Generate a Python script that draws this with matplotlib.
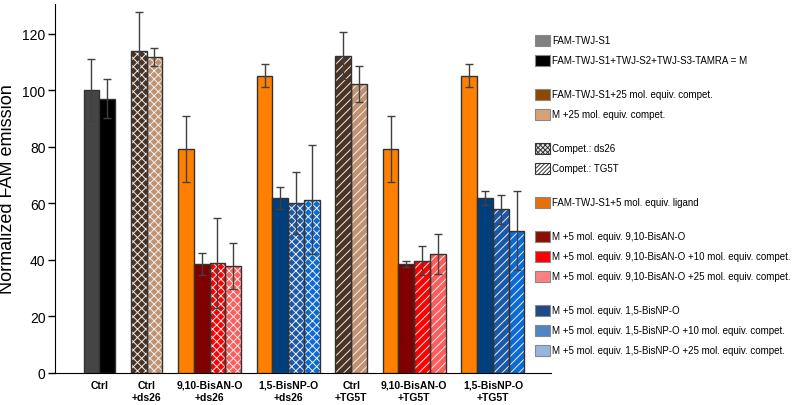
import matplotlib
matplotlib.use("Agg")
import matplotlib.pyplot as plt
from matplotlib.patches import Rectangle

plt.rcParams['font.family'] = ['Liberation Sans', 'DejaVu Sans']
plt.rcParams['hatch.linewidth'] = 0.7

# Данные
groups = ['Ctrl', 'Ctrl\n+ds26', '9,10-BisAN-O\n+ds26', '1,5-BisNP-O\n+ds26',
          'Ctrl\n+TG5T', '9,10-BisAN-O\n+TG5T', '1,5-BisNP-O\n+TG5T']
values = [[100, 97], [114, 111.6], [79.2, 38.5, 38.8, 37.8], [105.1, 61.8, 60.1, 61.3],
          [112.2, 102.1], [79.2, 38.5, 39.7, 42.1], [105.1, 61.8, 57.8, 50.3]]
errors = [[11, 6.8], [13.8, 3.2], [11.8, 4, 16, 8], [4, 4, 11, 19.4],
          [8.4, 6.4], [11.8, 1.2, 5.2, 7], [4, 2.5, 5.1, 13.9]]
colors = [['#454545', '#000000'],
          ['#4a3323', '#c09272'],
          ['#ff8000', '#800000', '#ff0000', '#ff5c5c'],
          ['#ff8000', '#003f7c', '#1a58aa', '#0a6ad8'],
          ['#4a3323', '#c09272'],
          ['#ff8000', '#800000', '#ff0000', '#ff5c5c'],
          ['#ff8000', '#003f7c', '#1a58aa', '#0a6ad8']]
hatches = [['', ''], ['xxxx', 'xxxx'], ['', '', 'xxxx', 'xxxx'], ['', '', 'xxxx', 'xxxx'],
           ['////', '////'], ['', '', '////', '////'], ['', '', '////', '////']]

# Легенда (отдельные блоки с промежутками)
legend_blocks = [
    [('FAM-TWJ-S1', '#808080', ''), ('FAM-TWJ-S1+TWJ-S2+TWJ-S3-TAMRA = M', '#000000', '')],
    [('FAM-TWJ-S1+25 mol. equiv. compet.', '#8c4a00', ''), ('M +25 mol. equiv. compet.', '#d6a275', '')],
    [('Compet.: ds26', '#e8e8e8', 'xxxxxxx'), ('Compet.: TG5T', '#ffffff', '////////')],
    [('FAM-TWJ-S1+5 mol. equiv. ligand', '#e8700c', '')],
    [('M +5 mol. equiv. 9,10-BisAN-O', '#8c1000', ''),
     ('M +5 mol. equiv. 9,10-BisAN-O +10 mol. equiv. compet.', '#ff0000', ''),
     ('M +5 mol. equiv. 9,10-BisAN-O +25 mol. equiv. compet.', '#ff8080', '')],
    [('M +5 mol. equiv. 1,5-BisNP-O', '#1f4a85', ''),
     ('M +5 mol. equiv. 1,5-BisNP-O +10 mol. equiv. compet.', '#4f85c5', ''),
     ('M +5 mol. equiv. 1,5-BisNP-O +25 mol. equiv. compet.', '#98b5de', '')],
]

fig = plt.figure(figsize=(8, 4.06), dpi=100)
ax = fig.add_axes([0.069, 0.079, 0.62, 0.909])

pos = 0
centers = []
for vals, errs, cols, hs in zip(values, errors, colors, hatches):
    xs = [pos + i for i in range(len(vals))]
    for x, v, e, c, h in zip(xs, vals, errs, cols, hs):
        if h:
            ax.bar(x, v, width=1, color=c, hatch=h, edgecolor='#f0f0f0', linewidth=0, zorder=2)
            ax.bar(x, v, width=1, fill=False, edgecolor='#333333', linewidth=1, zorder=3)
        else:
            ax.bar(x, v, width=1, color=c, edgecolor='#333333', linewidth=1, zorder=3)
        ax.errorbar(x, v, yerr=e, color='#404040', elinewidth=1, capsize=3,
                    capthick=1, zorder=4)
    centers.append((xs[0] + xs[-1]) / 2)
    pos = xs[-1] + 2

ax.set_xlim(-2.3, 29.2)
ax.set_ylim(0, 130.5)
ax.set_xticks(centers)
ax.set_xticklabels(groups, fontsize=7.5, fontweight='bold', linespacing=1.3)
ax.tick_params(axis='x', length=0, pad=5)
ax.set_yticks(range(0, 121, 20))
ax.tick_params(axis='y', labelsize=10, direction='out', length=5, width=1, pad=2)
ax.set_ylabel('Normalized FAM emission', fontsize=13)
ax.yaxis.set_label_coords(-0.079, 0.5)
for s in ['top', 'right']:
    ax.spines[s].set_visible(False)

# Рисуем легенду вручную
y = 406 - 41
for block in legend_blocks:
    for label, c, h in block:
        if h:
            fig.patches.append(Rectangle((535 / 800, (y - 5.5) / 406), 15 / 800, 11 / 406,
                                         transform=fig.transFigure, facecolor=c, hatch=h,
                                         edgecolor='#333333', linewidth=0.8, zorder=5))
        else:
            fig.patches.append(Rectangle((535 / 800, (y - 5.5) / 406), 15 / 800, 11 / 406,
                                         transform=fig.transFigure, facecolor=c,
                                         edgecolor='#888888', linewidth=0.8, zorder=5))
        fig.text(552 / 800, y / 406, label, fontsize=7, va='center', ha='left')
        y -= 20
    y -= 14

fig.savefig('out.png', dpi=100)
